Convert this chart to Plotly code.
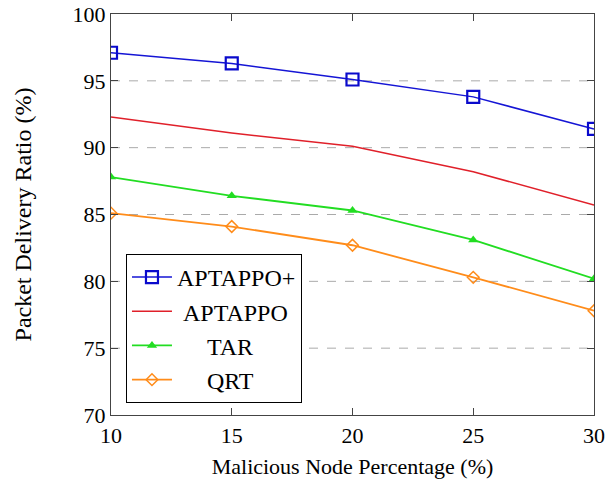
import plotly.graph_objects as go

x_vals = [10, 15, 20, 25, 30]
aptappo_plus = [97.1, 96.3, 95.1, 93.8, 91.4]
aptappo = [92.3, 91.1, 90.1, 88.2, 85.7]
tar = [87.8, 86.4, 85.3, 83.1, 80.2]
qrt = [85.1, 84.1, 82.7, 80.3, 77.8]
y_ticks = [70, 75, 80, 85, 90, 95, 100]
names = ["APTAPPO+", "APTAPPO", "TAR", "QRT"]
pad = [0, 1, 5, 5]  # non-breaking spaces to centre legend labels

FONT = "Liberation Serif"
label = [("\u00a0" * p) + n for p, n in zip(pad, names)]

fig = go.Figure()
fig.add_trace(go.Scatter(x=x_vals, y=aptappo_plus, name=label[0], mode="lines+markers",
                         line=dict(color="#1515D5", width=1.5),
                         marker=dict(symbol="square-open", size=12, color="#0A0ACC", line=dict(width=2.2))))
fig.add_trace(go.Scatter(x=x_vals, y=aptappo, name=label[1], mode="lines",
                         line=dict(color="#E0202A", width=1.5)))
fig.add_trace(go.Scatter(x=x_vals, y=tar, name=label[2], mode="lines+markers",
                         line=dict(color="#22DD22", width=1.8),
                         marker=dict(symbol="triangle-up", size=9, color="#22DD22")))
fig.add_trace(go.Scatter(x=x_vals, y=qrt, name=label[3], mode="lines+markers",
                         line=dict(color="#FF8C1A", width=1.8),
                         marker=dict(symbol="diamond-open", size=9, color="#FF8C1A", line=dict(width=1.5))))

for g in [75, 80, 85, 90, 95]:
    fig.add_shape(type="line", xref="paper", yref="y", x0=0, x1=1, y0=g, y1=g,
                  line=dict(color="#AAAAAA", width=1, dash="dash"), layer="below")

fig.update_layout(
    width=606, height=487,
    margin=dict(l=111, r=12, t=14, b=72, autoexpand=False),
    paper_bgcolor="white", plot_bgcolor="white",
    font=dict(family=FONT, color="black"),
    showlegend=True,
    legend=dict(x=0.031, y=0.03, xanchor="left", yanchor="bottom",
                bordercolor="black", borderwidth=1, bgcolor="white",
                font=dict(family=FONT, size=24), tracegroupgap=0,
                itemwidth=40),
)
fig.update_xaxes(range=[10, 30], tickvals=x_vals, ticks="inside", ticklen=7,
                 tickcolor="#444", mirror="ticks", showline=True, linecolor="#444", linewidth=1.3,
                 showgrid=False, zeroline=False, tickfont=dict(size=22, family=FONT), automargin=False,
                 title=dict(text="Malicious Node Percentage (%)", font=dict(size=22, family=FONT), standoff=12))
fig.update_yaxes(range=[70, 100], tickvals=y_ticks, ticks="inside", ticklen=7,
                 tickcolor="#444", mirror="ticks", showline=True, linecolor="#444", linewidth=1.3,
                 showgrid=False, zeroline=False, tickfont=dict(size=22, family=FONT), automargin=False,
                 title=dict(text="Packet Delivery Ratio (%)", font=dict(size=24, family=FONT), standoff=34))

fig.write_html("out.html")
